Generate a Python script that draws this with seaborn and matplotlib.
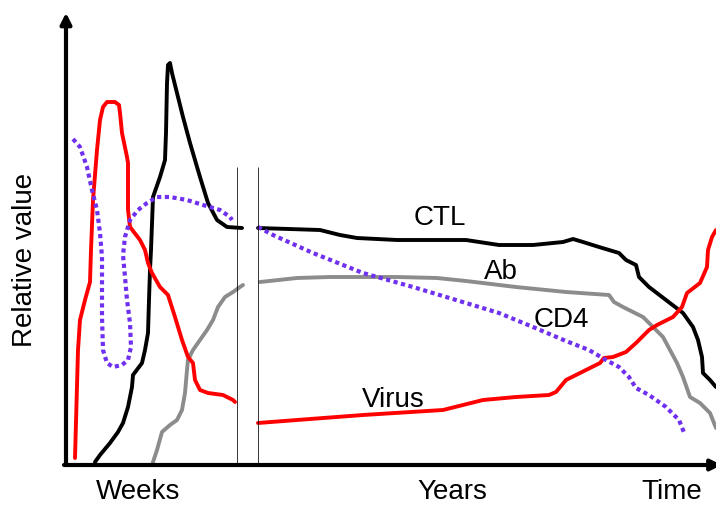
import numpy as np
import pandas as pd
import matplotlib
matplotlib.use("Agg")
import matplotlib.pyplot as plt
import seaborn as sns

sns.set_theme(style="white")
plt.rcParams["font.family"] = ["Liberation Sans", "DejaVu Sans"]
plt.rcParams["text.color"] = "black"

# ------------------------------------------------------------
# Data (relative units)
# weeks panel: x 0..172, years panel: x 0..458, value 0..450
# ------------------------------------------------------------
wk_virus_x = [9, 12, 14, 19, 24, 25, 27, 31, 34, 37, 41, 49, 53, 54, 56, 61, 62, 62, 64, 74, 79, 82,
              86, 94, 102, 109, 116, 122, 127, 129, 134, 142, 157, 167, 169]
wk_virus_y = [7, 115, 145, 165, 183, 215, 265, 315, 345, 358, 363, 363, 360, 352, 332, 308, 302, 255, 238, 225, 215, 202,
              192, 178, 170, 148, 125, 108, 102, 85, 75, 72, 70, 65, 63]

wk_ctl_x = [29, 34, 44, 52, 57, 62, 66, 67, 76, 79, 82, 83, 84, 85, 87, 94, 99, 100, 101, 102,
            104, 106, 111, 117, 124, 134, 142, 151, 161, 176]
wk_ctl_y = [3, 10, 22, 33, 42, 58, 78, 90, 102, 115, 132, 165, 195, 215, 268, 288, 305, 332, 382, 400,
            402, 392, 372, 348, 322, 288, 262, 245, 238, 237]

wk_cd4_x = [7, 14, 21, 26, 31, 34, 36, 36, 36, 37, 41, 47, 56, 62, 65, 64, 61, 59, 57, 59,
            64, 72, 81, 91, 104, 121, 137, 154, 164, 166]
wk_cd4_y = [326, 318, 298, 275, 255, 232, 208, 182, 148, 115, 102, 98, 100, 105, 118, 142, 165, 188, 210, 228,
            245, 255, 262, 268, 268, 265, 260, 255, 248, 245]

wk_ab_x = [86, 91, 96, 104, 111, 116, 119, 121, 122, 127, 134, 141, 147, 152, 159, 167, 174, 177]
wk_ab_y = [0, 15, 33, 40, 45, 55, 72, 95, 105, 115, 125, 135, 145, 158, 168, 173, 178, 180]

yr_ctl_x = [0, 62, 82, 99, 139, 208, 241, 275, 305, 315, 325, 341, 361, 368, 378, 381, 391, 408,
            425, 435, 440, 444, 445, 452, 458]
yr_ctl_y = [237, 235, 230, 227, 225, 225, 220, 220, 223, 226, 223, 218, 212, 205, 200, 188, 178, 165,
            152, 138, 125, 108, 92, 85, 78]

yr_ab_x = [2, 39, 72, 139, 179, 208, 258, 308, 351, 356, 365, 385, 395, 405, 412, 419, 425, 432,
           442, 452, 458]
yr_ab_y = [183, 187, 188, 188, 187, 184, 178, 173, 170, 163, 158, 148, 138, 128, 115, 102, 88, 68,
           62, 52, 37]

yr_cd4_x = [0, 15, 55, 105, 155, 208, 241, 275, 308, 331, 348, 361, 371, 378, 391, 408, 421, 427]
yr_cd4_y = [238, 230, 212, 192, 178, 162, 152, 138, 124, 115, 105, 98, 88, 77, 70, 58, 45, 30]

yr_virus_x = [0, 39, 105, 185, 205, 225, 258, 291, 298, 308, 318, 328, 342, 346, 355, 368, 378,
              391, 399, 415, 424, 429, 442, 449, 450, 454, 458]
yr_virus_y = [42, 45, 50, 55, 60, 65, 68, 70, 73, 85, 90, 95, 102, 107, 108, 113, 122,
              135, 140, 148, 158, 172, 182, 198, 215, 228, 235]

curve_labels = ["CTL", "Ab", "CD4", "Virus"]
label_x = [182, 243, 303, 135]
label_y = [247, 193, 145, 65]

RED, BLACK, GRAY, PURPLE = "#ff0000", "#000000", "#8c8c8c", "#7030f0"

fig = plt.figure(figsize=(7.16, 5.07), dpi=100)
ax1 = fig.add_axes([66 / 716, 42 / 507, 172 / 716, 450 / 507])
ax2 = fig.add_axes([258 / 716, 42 / 507, 458 / 716, 450 / 507])

for ax, xmax in [(ax1, 172), (ax2, 458)]:
    ax.set_xlim(0, xmax)
    ax.set_ylim(0, 450)
    ax.set_xticks([])
    ax.set_yticks([])
    for s in ax.spines.values():
        s.set_visible(False)
    ax.patch.set_alpha(0)


def curve(ax, x, y, color, dotted=False):
    kw = dict(color=color, lw=2.8, clip_on=False, solid_joinstyle="round",
              solid_capstyle="round")
    if dotted:
        kw.update(lw=3.0, linestyle=(0, (1, 0.85)))
    sns.lineplot(x=np.array(x), y=np.array(y), sort=False, estimator=None, ax=ax, **kw)


# weeks panel
curve(ax1, wk_ab_x, wk_ab_y, GRAY)
curve(ax1, wk_ctl_x, wk_ctl_y, BLACK)
curve(ax1, wk_virus_x, wk_virus_y, RED)
curve(ax1, wk_cd4_x, wk_cd4_y, PURPLE, dotted=True)

# years panel
curve(ax2, yr_ab_x, yr_ab_y, GRAY)
curve(ax2, yr_ctl_x, yr_ctl_y, BLACK)
curve(ax2, yr_virus_x, yr_virus_y, RED)
curve(ax2, yr_cd4_x, yr_cd4_y, PURPLE, dotted=True)

for t, x, y in zip(curve_labels, label_x, label_y):
    ax2.text(x, y, t, fontsize=20, ha="center", va="center", color="black")

# separators between the two time scales
ax1.axvline(172, ymax=297 / 450, color="black", lw=1.1)
ax2.axvline(0, ymax=297 / 450, color="black", lw=1.1)

# y axis arrow
ax1.annotate("", xy=(0, 1.005), xytext=(0, 0), xycoords="axes fraction",
             arrowprops=dict(arrowstyle="-|>", lw=3, color="black", mutation_scale=16,
                             shrinkA=0, shrinkB=0))
# time axis arrow
fig.add_artist(matplotlib.patches.FancyArrowPatch(
    (64 / 716, 42 / 507), (1.008, 42 / 507), transform=fig.transFigure,
    arrowstyle="-|>", lw=3, color="black", mutation_scale=16, shrinkA=0, shrinkB=0))

fig.text(138 / 716, 1 - 492 / 507, "Weeks", fontsize=20, ha="center", va="center", color="black")
fig.text(452 / 716, 1 - 492 / 507, "Years", fontsize=20, ha="center", va="center", color="black")
fig.text(672 / 716, 1 - 492 / 507, "Time", fontsize=20, ha="center", va="center", color="black")
fig.text(25 / 716, 1 - 260 / 507, "Relative value", fontsize=20, rotation=90,
         ha="center", va="center", color="black")

fig.savefig("out.png", dpi=100)
